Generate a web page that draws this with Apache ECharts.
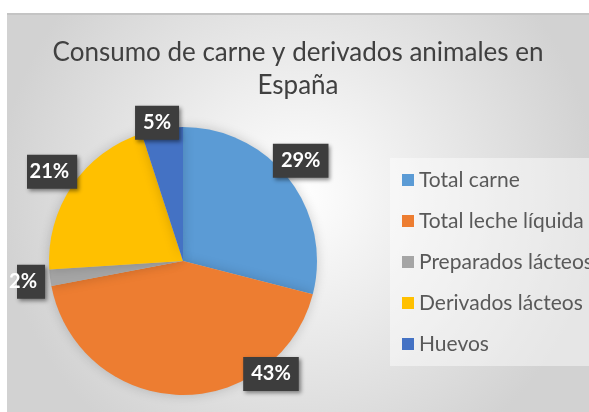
<!DOCTYPE html>
<html>
<head>
<meta charset="utf-8">
<script src="https://cdn.jsdelivr.net/npm/echarts@6/dist/echarts.min.js"></script>
<style>
  html, body { margin: 0; padding: 0; background: #fff; }
  #frame {
    position: absolute;
    left: 7px;
    top: 13px;
    width: 582px;
    height: 399px;
    border-top: 2px solid #c4c4c4;
  }
  #pie-chart { width: 100%; height: 100%; }
</style>
</head>
<body>
<div id="frame"><div id="pie-chart"></div></div>
<script>
// datos
var categorias = ['Total carne', 'Total leche líquida', 'Preparados lácteos', 'Derivados lácteos', 'Huevos'];
var porcentajes = [29, 43, 2, 21, 5];
var colores = ['#5B9BD5', '#ED7D31', '#A5A5A5', '#FFC000', '#4472C4'];

// ajuste de cada etiqueta (como en el Excel original)
var ajusteEtiquetas = [[-21, -18], [125, -21], [0, 4], [10, -14], [22, -6]];

var chartDom = document.getElementById('pie-chart');
var myChart = echarts.init(chartDom);
var option;

option = {
  backgroundColor: {
    type: 'radial', x: 0.5, y: 0.45, r: 0.75,
    colorStops: [
      { offset: 0, color: '#ffffff' },
      { offset: 1, color: '#d2d2d2' }
    ]
  },
  animation: false,
  title: {
    text: 'Consumo de carne y derivados animales en\nEspaña',
    left: 'center',
    top: 16,
    textStyle: {
      fontFamily: 'Lato',
      fontSize: 26,
      fontWeight: 'normal',
      color: '#404040',
      lineHeight: 33
    }
  },
  legend: {
    orient: 'vertical',
    left: 383,
    top: 143,
    padding: [11, 120, 11, 12],
    backgroundColor: 'rgba(255,255,255,0.45)',
    icon: 'rect',
    itemWidth: 12,
    itemHeight: 12,
    itemGap: 19,
    data: categorias,
    textStyle: {
      fontFamily: 'Lato',
      fontSize: 21,
      color: '#595959',
      lineHeight: 22
    }
  },
  series: [
    {
      type: 'pie',
      center: [176, 246],
      radius: 134,
      startAngle: 90,
      clockwise: true,
      data: categorias.map(function (c, i) {
        return { name: c, value: porcentajes[i], itemStyle: { color: colores[i] } };
      }),
      itemStyle: {
        shadowBlur: 12,
        shadowColor: 'rgba(0,0,0,0.18)'
      },
      label: {
        show: true,
        position: 'outside',
        formatter: '{d}%',
        overflow: 'none',
        fontFamily: 'Lato',
        fontSize: 20,
        lineHeight: 20,
        fontWeight: 'bold',
        color: '#ffffff',
        backgroundColor: '#3d3d3d',
        padding: [7, 8],
        shadowBlur: 4,
        shadowOffsetX: 2,
        shadowOffsetY: 2,
        shadowColor: 'rgba(0,0,0,0.45)'
      },
      labelLine: { show: false, length: 0, length2: 0 },
      labelLayout: function (params) {
        var a = ajusteEtiquetas[params.dataIndex];
        return { dx: a[0], dy: a[1] };
      },
      emphasis: { disabled: true }
    }
  ]
};

option && myChart.setOption(option);
</script>
</body>
</html>
